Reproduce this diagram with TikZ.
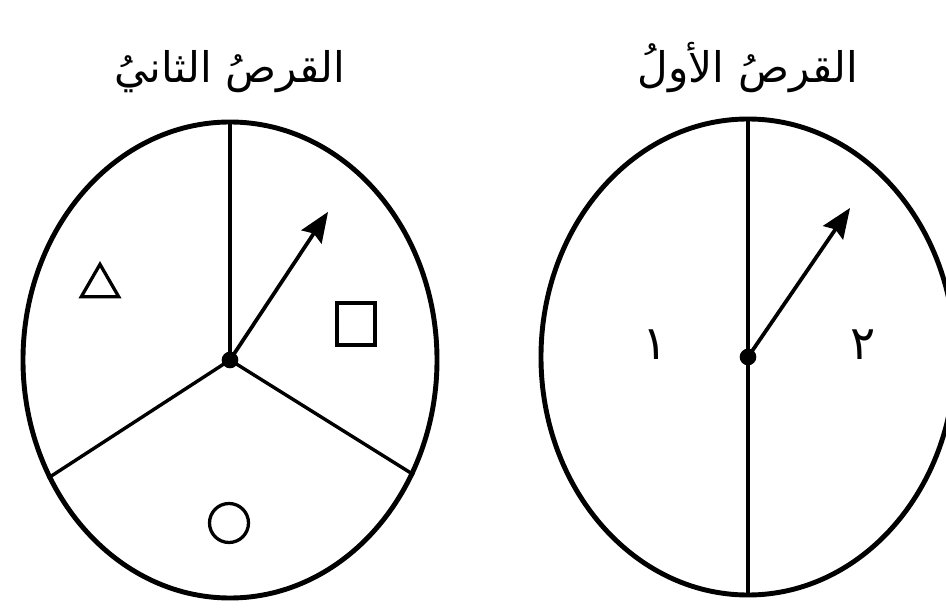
\documentclass[tikz,border=0pt]{standalone}
\usepackage{fontspec}
\usepackage{tikz}
\newfontfamily\arabicfont[Script=Arabic]{DejaVu Sans}
\TeXXeTstate=1
\usetikzlibrary{shapes.geometric, arrows.meta}

\tikzset{
  disc/.style={draw, ellipse, line width=4.2pt, minimum width=12.42cm,
    minimum height=14.28cm, inner sep=0pt},
  spoke/.style={line width=2.9pt},
  pointer/.style={line width=3.2pt,
    -{Stealth[length=0.9cm, width=0.72cm, inset=0.12cm]}},
  symbol/.style={draw, line width=2.8pt, inner sep=0pt},
  title/.style={font=\fontsize{36}{42}\selectfont\arabicfont, anchor=base},
  digit/.style={font=\fontsize{40}{48}\selectfont\arabicfont, anchor=base},
}

\begin{document}
\begin{tikzpicture}[x=0.03cm, y=0.03cm]
    \clip (0,0) rectangle (946,608);

    % Second disc on the left: three sectors
    \node[disc] (discB) at (230,248) {};
    \coordinate (hubB) at (discB.center);
    \draw[spoke] (hubB) -- (discB.north);
    \draw[spoke] (hubB) -- (discB.213);
    \draw[spoke] (hubB) -- (discB.328);

    % Pointer of the second disc
    \coordinate (tipB) at ([shift={(56.5:5.33cm)}]hubB);
    \draw[pointer] (hubB) -- (tipB);
    \fill (hubB) circle (0.25cm);

    % Sector symbols
    \node[symbol, regular polygon, regular polygon sides=3,
          minimum size=1.3cm] (tri) at (100,322) {};
    \node[symbol, rectangle, minimum width=1.14cm,
          minimum height=1.26cm] (sq) at (356,284) {};
    \node[symbol, circle, minimum size=1.17cm] (ring) at (229,85) {};

    % First disc on the right: two halves
    \node[disc] (discA) at (748,251) {};
    \coordinate (hubA) at (discA.center);
    \draw[spoke] (discA.north) -- (discA.south);

    % Pointer of the first disc
    \coordinate (tipA) at ([shift={(55.6:5.42cm)}]hubA);
    \draw[pointer] (hubA) -- (tipA);
    \fill (hubA) circle (0.25cm);

    % Half labels
    \node[digit] (one) at (655,248) {\beginR ١\endR};
    \node[digit] (two) at (863,248) {\beginR ٢\endR};

    % Titles
    \node[title] (titleB) at (230,525) {\beginR القرصُ الثانيُ\endR};
    \node[title] (titleA) at (748,525) {\beginR القرصُ الأولُ\endR};

\end{tikzpicture}
\end{document}
